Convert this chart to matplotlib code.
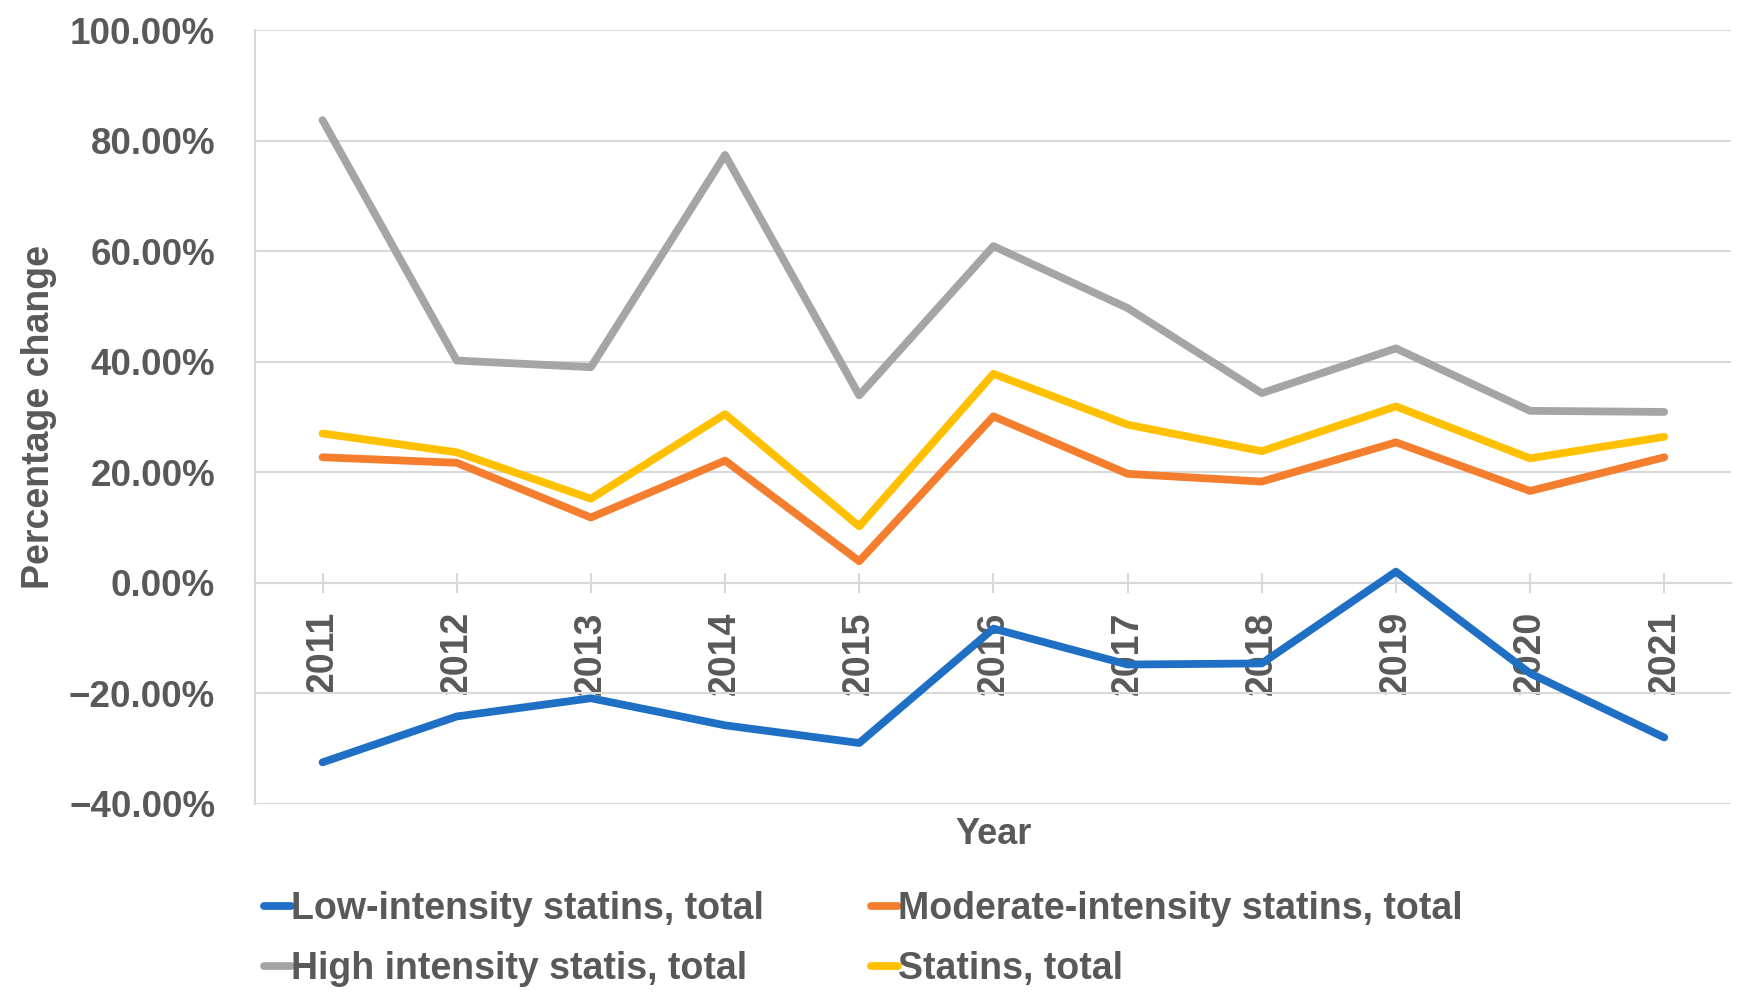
import matplotlib
matplotlib.use("Agg")
import matplotlib.pyplot as plt
from matplotlib.ticker import FixedLocator, FuncFormatter

years = ["2011", "2012", "2013", "2014", "2015", "2016", "2017", "2018", "2019", "2020", "2021"]
low_intensity = [-32.5, -24.2, -20.9, -25.8, -29.0, -8.3, -14.8, -14.6, 2.0, -16.4, -28.0]
moderate_intensity = [22.7, 21.7, 11.8, 22.1, 3.9, 30.1, 19.7, 18.3, 25.4, 16.6, 22.7]
high_intensity = [83.7, 40.2, 39.0, 77.4, 33.9, 60.9, 49.7, 34.3, 42.4, 31.1, 30.9]
statins_total = [27.0, 23.6, 15.2, 30.5, 10.2, 37.8, 28.6, 23.8, 31.9, 22.5, 26.4]
series_labels = ["Low-intensity statins, total", "Moderate-intensity statins, total",
                 "High intensity statis, total", "Statins, total"]
y_ticks = [-40, -20, 0, 20, 40, 60, 80, 100]

colors = ["#1F6FC5", "#F47E2E", "#A5A5A5", "#FFC000"]
TXT = "#595959"
GRID = "#D9D9D9"
FONT = ["Liberation Sans", "DejaVu Sans"]

fig = plt.figure(figsize=(17.57, 10.01), dpi=100)
ax = fig.add_axes([0.1454, 0.197, 0.840, 0.773])

x = list(range(len(years)))
data = [low_intensity, moderate_intensity, high_intensity, statins_total]
handles = []
for vals, c, lab in zip(data, colors, series_labels):
    h, = ax.plot(x, vals, color=c, lw=5.6, label=lab, solid_joinstyle="round",
                 solid_capstyle="round", zorder=3)
    handles.append(h)

ax.set_xlim(-0.5, len(years) - 0.5)
ax.set_ylim(-40, 100)
ax.yaxis.set_major_locator(FixedLocator(y_ticks))

def fmt(v, pos):
    if v < 0:
        return "\u2212" + f"{abs(v):.2f}%"
    return f"{v:.2f}%"

ax.yaxis.set_major_formatter(FuncFormatter(fmt))
ax.grid(axis="y", color=GRID, lw=1.5, zorder=0)
ax.set_axisbelow(True)

for s in ["top", "right"]:
    ax.spines[s].set_visible(False)
ax.spines["left"].set_color(GRID)
ax.spines["left"].set_linewidth(1.5)
ax.spines["bottom"].set_position(("data", 0))
ax.spines["bottom"].set_color(GRID)
ax.spines["bottom"].set_linewidth(1.5)

ax.set_xticks(x)
ax.set_xticklabels(years, rotation=90, fontsize=27, fontweight="bold",
                   color=TXT, family=FONT, va="top", ha="center")
ax.tick_params(axis="x", direction="inout", length=15, width=1.5, color=GRID, pad=13)
ax.tick_params(axis="y", length=0, pad=29)
for t in ax.get_yticklabels():
    t.set_fontsize(26.5)
    t.set_fontweight("bold")
    t.set_color(TXT)
    t.set_family(FONT)

fig.text(0.022, 0.583, "Percentage change", rotation=90, ha="center", va="center",
         fontsize=27, fontweight="bold", color=TXT, family=FONT)
fig.text(0.5655, 0.166, "Year", ha="center", va="center",
         fontsize=26, fontweight="bold", color=TXT, family=FONT)

leg_kw = dict(loc="upper left", ncol=1, frameon=False, handlelength=0.72,
              handletextpad=0.0, labelspacing=0.64, borderpad=0, borderaxespad=0,
              prop={"family": FONT, "size": 27, "weight": "bold"}, labelcolor=TXT)
fig.legend([handles[0], handles[2]], [series_labels[0], series_labels[2]],
           bbox_to_anchor=(0.1505, 0.110), **leg_kw)
fig.legend([handles[1], handles[3]], [series_labels[1], series_labels[3]],
           bbox_to_anchor=(0.4955, 0.110), **leg_kw)

fig.savefig("out.png", dpi=100, facecolor="white")
